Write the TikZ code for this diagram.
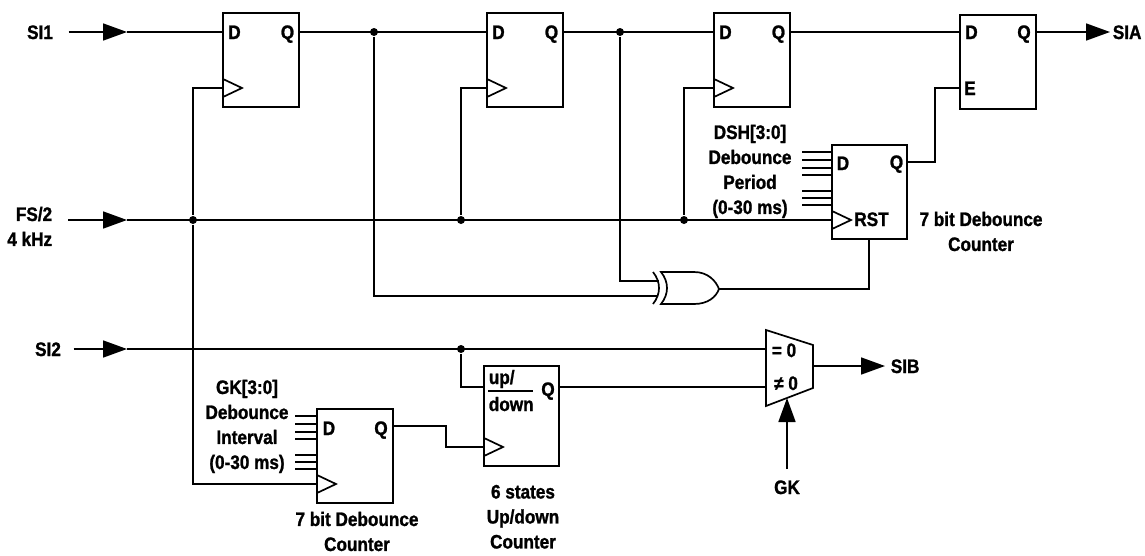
\documentclass[tikz,border=0pt]{standalone}
\usepackage{fontspec}
\setmainfont{Liberation Sans}[FakeStretch=0.88,BoldFeatures={FakeBold=1.2}]
\usetikzlibrary{calc,arrows.meta}
\newcommand\clocktri[1]{\draw ($(#1)+(0,-9)$) -- ($(#1)+(19,0)$) -- ($(#1)+(0,9)$);}
\begin{document}
\begin{tikzpicture}[x=1pt,y=-1pt,line width=1.7pt,
  font=\fontsize{19.5}{25}\selectfont\bfseries,
  ffbox/.style={draw,minimum width=76pt,minimum height=94pt,inner sep=0pt},
  pin/.style={inner sep=0pt,text height=14pt,text depth=0pt},
  txt/.style={inner sep=0pt,align=center,anchor=north},
  jdot/.style={circle,fill,inner sep=0pt,minimum size=8pt},
  arr/.style={-{Triangle[length=24pt,width=17pt]}},
  bus/.style={line width=1.3pt}]
\useasboundingbox (0,0) rectangle (1145,555);

% ---------- flip-flops and counters ----------
\node[ffbox] (ff1) at (261,60) {};
\node[ffbox] (ff2) at (525,60) {};
\node[ffbox] (ff3) at (752,60) {};
\node[ffbox] (ff4) at (998,62) {};
\node[ffbox,minimum width=75pt] (cnt1) at (869.5,192) {};
\node[ffbox] (cnt2) at (355,456) {};
\node[ffbox,minimum width=75pt,minimum height=100pt] (ud) at (521.5,416) {};

\node[pin] (ff1D) at (234.5,32) {D};  \node[pin] (ff1Q) at (287.5,32) {Q};
\node[pin] (ff2D) at (498.5,32) {D};  \node[pin] (ff2Q) at (551.5,32) {Q};
\node[pin] (ff3D) at (725.5,32) {D};  \node[pin] (ff3Q) at (778.5,32) {Q};
\node[pin] (ff4D) at (971.5,32) {D};  \node[pin] (ff4Q) at (1024,32) {Q};
\node[pin] (ff4E) at (970,88) {E};
\node[pin] (c1D) at (843,163) {D};    \node[pin] (c1Q) at (896.5,162) {Q};
\node[pin] (c1R) at (871.5,219) {RST};
\node[pin] (c2D) at (329,428) {D};    \node[pin] (c2Q) at (381,428) {Q};
\node[pin,anchor=west] (udU) at (488,377) {up/};
\node[pin,anchor=west] (udD) at (488,404) {down};
\draw[line width=1.5pt] (488,391) -- (533,391);
\node[pin] (udQ) at (548,389) {Q};

% clock triangles
\coordinate (ff1clk) at (223,88);
\coordinate (ff2clk) at (487,88);
\coordinate (ff3clk) at (714,88);
\coordinate (c1clk) at (832,220);
\coordinate (c2clk) at (317,484);
\coordinate (udclk) at (484,447);
\clocktri{ff1clk}\clocktri{ff2clk}\clocktri{ff3clk}
\clocktri{c1clk}\clocktri{c2clk}\clocktri{udclk}

% ---------- XOR gate ----------
\coordinate (xorA) at (659,281);
\coordinate (xorB) at (658,296);
\coordinate (xorO) at (719,289);
\draw (653,272) .. controls (661,282) and (661,294) .. (653,304);
\draw (661,272) -- (694,272) .. controls (708,272) and (716,281) .. (xorO)
      .. controls (716,297) and (708,304) .. (694,304) -- (661,304)
      .. controls (669,294) and (669,282) .. (661,272) -- cycle;

% ---------- multiplexer ----------
\coordinate (mux1) at (766,330);
\coordinate (mux2) at (813,345);
\coordinate (mux3) at (813,388);
\coordinate (mux4) at (766,406);
\draw (mux1) -- (mux2) -- (mux3) -- (mux4) -- cycle;
\node[pin] (meq) at (784,350) {= 0};
\node[pin] (mne) at (786,383) {≠ 0};
\coordinate (muxA) at (766,349);
\coordinate (muxB) at (766,387);
\coordinate (muxO) at (813,366);
\coordinate (muxG) at (787,398);

% ---------- labels ----------
\node[pin] (si1) at (40,32) {SI1};
\node[inner sep=0pt,align=right,anchor=north east] (fs) at (53,206) {FS/2\\4 kHz};
\node[pin] (si2) at (48,349) {SI2};
\node[pin,anchor=west] (sia) at (1112,32) {SIA};
\node[pin,anchor=west] (sib) at (890,366) {SIB};
\node[pin] (gk) at (787,487) {GK};
\node[txt] (dshlbl) at (750,124) {DSH[3:0]\\Debounce\\Period\\(0-30 ms)};
\node[txt] (c1lbl) at (981,211) {7 bit Debounce\\Counter};
\node[txt] (gklbl) at (247,379) {GK[3:0]\\Debounce\\Interval\\(0-30 ms)};
\node[txt] (c2lbl) at (357,511) {7 bit Debounce\\Counter};
\node[txt] (udlbl) at (523,484) {6 states\\Up/down\\Counter};

% ---------- bus inputs ----------
\foreach \yy in {7,15,23,30,46,53,60}{
  \draw[bus] (802,145+\yy) -- (832,145+\yy);
  \draw[bus] (295,409+\yy) -- (317,409+\yy);
}

% ---------- junctions ----------
\node[jdot] (j1) at (374,32) {};
\node[jdot] (j2) at (620,32) {};
\node[jdot] (j3) at (193,220) {};
\node[jdot] (j4) at (461,220) {};
\node[jdot] (j5) at (684,220) {};
\node[jdot] (j6) at (461,349) {};

% ---------- pin coordinates ----------
\coordinate (ff1d) at (223,32); \coordinate (ff1q) at (299,32);
\coordinate (ff2d) at (487,32); \coordinate (ff2q) at (563,32);
\coordinate (ff3d) at (714,32); \coordinate (ff3q) at (790,32);
\coordinate (ff4d) at (960,32); \coordinate (ff4q) at (1036,32);
\coordinate (ff4e) at (960,88);
\coordinate (c1q) at (907,162);
\coordinate (c1b) at (869,239);
\coordinate (c2q) at (393,426);
\coordinate (udin) at (484,387);
\coordinate (udq) at (559,387);
\coordinate (a1) at (127,32);
\coordinate (a2) at (127,220);
\coordinate (a3) at (127,349);
\coordinate (siaT) at (1110,32);
\coordinate (sibT) at (885,366);

% ---------- connectors ----------
\draw[arr] ($(si1.east)+(15,0)$) -- (a1);
\draw (a1) -- (ff1d);
\draw (ff1q) -- (ff2d);
\draw (ff2q) -- (ff3d);
\draw (ff3q) -- (ff4d);
\draw[arr] (ff4q) -- (siaT);

\draw[arr] (68,220) -- (a2);
\draw (a2) -- (c1clk);
\draw (ff1clk) -| (j3) |- (c2clk);
\draw (ff2clk) -| (j4);
\draw (ff3clk) -| (j5);

\draw (j1) |- (xorB);
\draw (j2) |- (xorA);
\draw (xorO) -| (c1b);
\draw (ff4e) -- ++(-25,0) |- (c1q);

\draw[arr] ($(si2.east)+(12,0)$) -- (a3);
\draw (a3) -- (muxA);
\draw (j6) |- (udin);
\draw (c2q) -- ++(53,0) |- (udclk);
\draw (udq) -- (muxB);
\draw[arr] (muxO) -- (sibT);
\draw[arr] ($(gk.north)+(0,-10)$) -- (muxG);
\end{tikzpicture}
\end{document}
